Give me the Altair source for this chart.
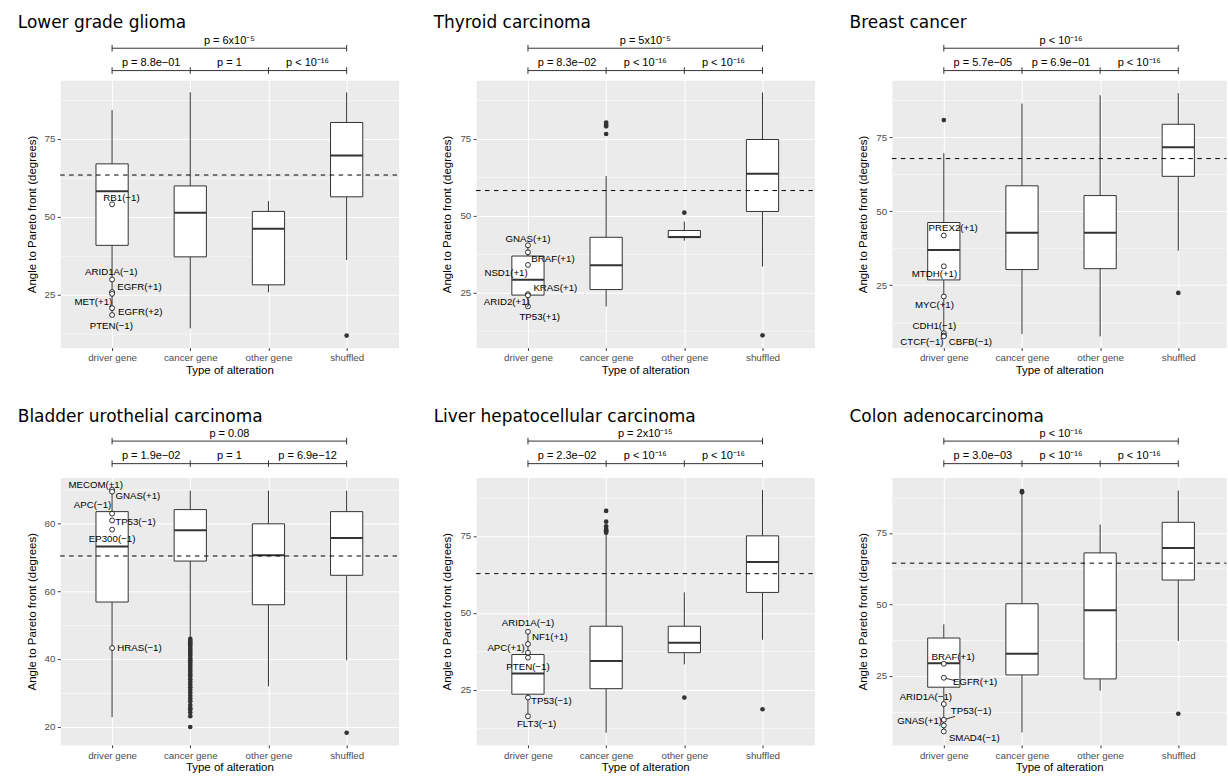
import json
import altair as alt
import pandas as pd

CATS = ["driver gene", "cancer gene", "other gene", "shuffled"]
POS = [1, 2, 3, 4]

# ---------------- Lower grade glioma ----------------
LGG_TITLE = "Lower grade glioma"
LGG_LOW = [18.4, 14.1, 25.7, 36.1]
LGG_Q1 = [40.8, 37.1, 28.1, 56.4]
LGG_MED = [58.2, 51.3, 46.1, 69.7]
LGG_Q3 = [67.0, 59.9, 51.7, 80.3]
LGG_HIGH = [84.3, 90.0, 55.0, 90.0]
LGG_OUT_X = [4]
LGG_OUT_Y = [11.8]
LGG_GENES = ["RB1(−1)", "ARID1A(−1)", "EGFR(+1)", "MET(+1)", "EGFR(+2)", "PTEN(−1)"]
LGG_GENE_Y = [54.0, 29.8, 25.8, 25.2, 20.6, 18.4]
LGG_LAB_X = [1.12, 0.99, 1.35, 0.76, 1.36, 0.99]
LGG_LAB_Y = [56.0, 32.1, 27.3, 22.5, 19.3, 14.8]
LGG_DASH = 63.4
LGG_DOMAIN = [7.9, 93.9]
LGG_P_TOP = "p = 6x10⁻⁵"
LGG_P = ["p = 8.8e−01", "p = 1", "p < 10⁻¹⁶"]

# ---------------- Thyroid carcinoma ----------------
THY_TITLE = "Thyroid carcinoma"
THY_LOW = [20.4, 20.4, 41.8, 33.4]
THY_Q1 = [24.1, 25.9, 42.8, 51.3]
THY_MED = [29.1, 33.8, 43.0, 63.6]
THY_Q3 = [36.8, 42.9, 45.1, 74.7]
THY_HIGH = [40.3, 62.8, 48.0, 90.0]
THY_OUT_X = [2, 2, 2, 2, 3, 4]
THY_OUT_Y = [80.2, 79.6, 79.0, 76.5, 50.9, 11.0]
THY_GENES = ["GNAS(+1)", "BRAF(+1)", "NSD1(+1)", "KRAS(+1)", "ARID2(+1)", "TP53(+1)"]
THY_GENE_Y = [40.3, 38.0, 33.9, 24.4, 24.0, 20.4]
THY_LAB_X = [1.0, 1.32, 0.72, 1.35, 0.73, 1.15]
THY_LAB_Y = [42.3, 36.0, 31.2, 26.5, 21.8, 17.1]
THY_DASH = 58.1
THY_DOMAIN = [7.0, 94.0]
THY_P_TOP = "p = 5x10⁻⁵"
THY_P = ["p = 8.3e−02", "p < 10⁻¹⁶", "p < 10⁻¹⁶"]

# ---------------- Breast cancer ----------------
BRC_TITLE = "Breast cancer"
BRC_LOW = [8.0, 8.5, 7.7, 36.7]
BRC_Q1 = [26.8, 30.3, 30.6, 61.8]
BRC_MED = [36.9, 42.7, 42.7, 71.6]
BRC_Q3 = [46.2, 58.6, 55.3, 79.4]
BRC_HIGH = [69.6, 86.4, 89.2, 89.9]
BRC_OUT_X = [1, 4]
BRC_OUT_Y = [80.8, 22.4]
BRC_GENES = ["PREX2(+1)", "MTDH(+1)", "MYC(+1)", "CDH1(−1)", "CTCF(−1)", "CBFB(−1)"]
BRC_GENE_Y = [41.8, 31.4, 21.2, 8.8, 8.0, 7.7]
BRC_LAB_X = [1.12, 0.88, 0.88, 0.88, 0.72, 1.34]
BRC_LAB_Y = [44.3, 28.8, 18.4, 11.3, 5.8, 5.8]
BRC_DASH = 67.8
BRC_DOMAIN = [3.9, 94.3]
BRC_P_TOP = "p < 10⁻¹⁶"
BRC_P = ["p = 5.7e−05", "p = 6.9e−01", "p < 10⁻¹⁶"]

# ---------------- Bladder urothelial carcinoma ----------------
BLC_TITLE = "Bladder urothelial carcinoma"
BLC_LOW = [22.8, 46.3, 31.9, 39.6]
BLC_Q1 = [56.8, 68.9, 56.0, 64.7]
BLC_MED = [73.2, 78.0, 70.6, 75.7]
BLC_Q3 = [83.5, 84.1, 79.9, 83.5]
BLC_HIGH = [90.0, 89.7, 89.7, 89.7]
BLC_OUT_Y = [45.9, 45.4, 44.9, 44.3, 43.8, 43.2, 42.6, 42.1, 41.5, 40.9, 40.2,
             39.6, 39.0, 38.3, 37.6, 36.9, 36.2, 35.5, 34.8, 34.0, 33.2, 32.4,
             31.6, 30.8, 30.0, 29.1, 28.3, 27.5, 26.4, 25.5, 25.1, 24.2, 23.1,
             19.9, 18.2]
BLC_OUT_X = [2] * 34 + [4]
BLC_GENES = ["MECOM(+1)", "GNAS(+1)", "APC(−1)", "TP53(−1)", "EP300(−1)", "HRAS(−1)"]
BLC_GENE_Y = [90.0, 89.4, 82.9, 80.9, 78.2, 43.2]
BLC_LAB_X = [0.79, 1.33, 0.75, 1.30, 1.0, 1.35]
BLC_LAB_Y = [91.4, 88.1, 85.6, 80.3, 75.3, 43.3]
BLC_DASH = 70.4
BLC_DOMAIN = [14.6, 93.6]
BLC_P_TOP = "p = 0.08"
BLC_P = ["p = 1.9e−02", "p = 1", "p = 6.9e−12"]

# ---------------- Liver hepatocellular carcinoma ----------------
LIV_TITLE = "Liver hepatocellular carcinoma"
LIV_LOW = [16.3, 11.0, 33.2, 41.2]
LIV_Q1 = [23.5, 25.3, 37.0, 56.6]
LIV_MED = [30.2, 34.3, 40.2, 66.5]
LIV_Q3 = [36.4, 45.6, 45.6, 75.0]
LIV_HIGH = [43.8, 75.5, 56.6, 89.9]
LIV_OUT_X = [2, 2, 2, 2, 2, 2, 2, 3, 4]
LIV_OUT_Y = [83.1, 79.6, 78.1, 77.2, 76.8, 76.4, 76.0, 22.4, 18.6]
LIV_GENES = ["ARID1A(−1)", "NF1(+1)", "APC(+1)", "PTEN(−1)", "TP53(−1)", "FLT3(−1)"]
LIV_GENE_Y = [43.8, 39.8, 37.0, 35.4, 22.4, 16.3]
LIV_LAB_X = [1.0, 1.28, 0.72, 1.0, 1.30, 1.11]
LIV_LAB_Y = [46.8, 42.2, 38.5, 32.4, 21.3, 13.7]
LIV_DASH = 62.7
LIV_DOMAIN = [7.0, 94.0]
LIV_P_TOP = "p = 2x10⁻¹⁵"
LIV_P = ["p = 2.3e−02", "p < 10⁻¹⁶", "p < 10⁻¹⁶"]

# ---------------- Colon adenocarcinoma ----------------
COL_TITLE = "Colon adenocarcinoma"
COL_LOW = [5.5, 5.2, 19.8, 37.2]
COL_Q1 = [21.0, 25.3, 23.9, 58.5]
COL_MED = [29.4, 32.7, 47.9, 69.7]
COL_Q3 = [38.2, 50.2, 68.0, 78.7]
COL_HIGH = [43.0, 88.9, 77.9, 89.8]
COL_OUT_X = [2, 2, 4]
COL_OUT_Y = [89.2, 89.6, 11.7]
COL_GENES = ["BRAF(+1)", "EGFR(+1)", "ARID1A(−1)", "TP53(−1)", "GNAS(+1)", "SMAD4(−1)"]
COL_GENE_Y = [29.2, 24.3, 15.1, 9.6, 7.6, 5.5]
COL_LAB_X = [1.12, 1.40, 0.77, 1.35, 0.69, 1.39]
COL_LAB_Y = [31.6, 22.7, 17.7, 12.6, 9.3, 3.3]
COL_SEG_X = [1.0, 1.0]
COL_SEG_Y = [24.3, 9.6]
COL_SEG_X2 = [1.144, 1.144]
COL_SEG_Y2 = [23.3, 10.8]
COL_DASH = 64.4
COL_DOMAIN = [0.8, 94.4]
COL_P_TOP = "p < 10⁻¹⁶"
COL_P = ["p = 3.0e−03", "p < 10⁻¹⁶", "p < 10⁻¹⁶"]

TICKS_A = [25, 50, 75]
MINOR_A = [12.5, 37.5, 62.5, 87.5]
TICKS_B = [20, 40, 60, 80]
MINOR_B = [30, 50, 70, 90]

DARK = "#333333"
SANS = "Liberation Sans"
PLOT_H = 268
# pixel offsets above each row's plot area: (title, top bracket, lower bracket)
ROW1_OFF = (-52.7, -32.0, -9.6)
ROW2_OFF = (-55.7, -36.4, -13.8)


def panel(title, low, q1, med, q3, high, out_x, out_y, genes, gene_y, lab_x, lab_y,
          dash, domain, yticks, yminor, p_top, p_low, width, xmax, off, seg=None):
    xs = alt.Scale(domain=[0.4, xmax], nice=False, zero=False)
    ys = alt.Scale(domain=domain, nice=False, zero=False)
    step = width / (xmax - 0.4)
    major_test = "indexof(" + json.dumps(yticks) + ", datum.value) >= 0"
    xaxis = alt.Axis(values=POS, labelExpr=json.dumps(CATS) + "[datum.value - 1]",
                     title="Type of alteration", grid=True, titlePadding=2)
    yaxis = alt.Axis(
        values=sorted(yticks + yminor),
        labelExpr=major_test + " ? datum.label : ''",
        title="Angle to Pareto front (degrees)", grid=True, titlePadding=7,
        gridWidth={"condition": {"test": major_test, "value": 1.07}, "value": 0.55},
        tickOpacity={"condition": {"test": major_test, "value": 1}, "value": 0},
    )

    def X(field):
        return alt.X(field, scale=xs, axis=xaxis)

    def Y(field):
        return alt.Y(field, scale=ys, axis=yaxis)

    box = pd.DataFrame({"pos": POS, "low": low, "q1": q1, "med": med, "q3": q3, "high": high})
    outl = pd.DataFrame({"pos": out_x, "v": out_y})
    gene = pd.DataFrame({"pos": [1] * len(genes), "v": gene_y})
    labs = pd.DataFrame({"pos": lab_x, "v": lab_y, "name": genes})
    dashdf = pd.DataFrame({"v": [dash]})
    brk = pd.DataFrame({"x1": [1, 1, 2, 3], "x2": [4, 2, 3, 4],
                        "label": [p_top] + list(p_low)})
    top_b = brk.iloc[:1]
    low_b = brk.iloc[1:]
    top_tips = pd.DataFrame({"x": [top_b.x1.iloc[0], top_b.x2.iloc[0]]})
    low_tips = pd.DataFrame({"x": sorted(set(low_b.x1) | set(low_b.x2))})

    layers = []
    layers.append(alt.Chart(box).mark_rule(color=DARK, strokeWidth=1).encode(
        x=X("pos:Q"), y=Y("low:Q"), y2="high:Q"))
    layers.append(alt.Chart(box).mark_bar(size=0.4 * step, fill="white", stroke=DARK,
                                          strokeWidth=1).encode(
        x=X("pos:Q"), y=Y("q1:Q"), y2="q3:Q"))
    layers.append(alt.Chart(box).mark_tick(orient="horizontal", size=0.4 * step,
                                           thickness=2, color=DARK, opacity=1).encode(
        x=X("pos:Q"), y=Y("med:Q")))
    layers.append(alt.Chart(outl).mark_circle(size=22, color=DARK, opacity=1).encode(
        x=X("pos:Q"), y=Y("v:Q")))
    layers.append(alt.Chart(dashdf).mark_rule(color="black", strokeWidth=1,
                                              strokeDash=[4.5, 4.5]).encode(
        y=Y("v:Q"), x=alt.value(0), x2=alt.value(width)))
    if seg is not None:
        segdf = pd.DataFrame({"pos": seg[0], "v": seg[1], "x2": seg[2], "y2": seg[3]})
        layers.append(alt.Chart(segdf).mark_rule(color="black", strokeWidth=0.8).encode(
            x=X("pos:Q"), x2="x2:Q", y=Y("v:Q"), y2="y2:Q"))
    layers.append(alt.Chart(gene).mark_point(shape="circle", size=24, fill="white",
                                             stroke="black", strokeWidth=0.8,
                                             fillOpacity=1, opacity=1).encode(
        x=X("pos:Q"), y=Y("v:Q")))
    layers.append(alt.Chart(labs).mark_text(font=SANS, fontSize=9.7, color="black",
                                            baseline="middle").encode(
        x=X("pos:Q"), y=Y("v:Q"), text="name:N"))

    # significance brackets above the panel
    t_off, top_off, low_off = off
    for df, tips, yline in ((top_b, top_tips, top_off), (low_b, low_tips, low_off)):
        layers.append(alt.Chart(df).mark_rule(color=DARK, strokeWidth=1).encode(
            x=X("x1:Q"), x2="x2:Q", y=alt.value(yline)))
        layers.append(alt.Chart(tips).mark_rule(color=DARK, strokeWidth=1).encode(
            x=X("x:Q"), y=alt.value(yline - 3.3), y2=alt.value(yline + 3.3)))
        layers.append(alt.Chart(df).transform_calculate(
            mid="(datum.x1 + datum.x2) / 2").mark_text(
            font=SANS, fontSize=11, color="black", baseline="alphabetic").encode(
            x=X("mid:Q"), y=alt.value(yline - 4.3), text="label:N"))

    layers.append(alt.Chart(pd.DataFrame({"t": [title]})).mark_text(
        font="DejaVu Sans", fontSize=17, color="black", align="left",
        baseline="alphabetic").encode(
        x=alt.value(-42.5), y=alt.value(t_off), text="t:N"))

    return alt.layer(*layers).properties(width=width, height=PLOT_H)


W = 339
W3 = 335
X3 = 0.4 + W3 / (W / 4.2)

p1 = panel(LGG_TITLE, LGG_LOW, LGG_Q1, LGG_MED, LGG_Q3, LGG_HIGH, LGG_OUT_X, LGG_OUT_Y,
           LGG_GENES, LGG_GENE_Y, LGG_LAB_X, LGG_LAB_Y, LGG_DASH, LGG_DOMAIN,
           TICKS_A, MINOR_A, LGG_P_TOP, LGG_P, W, 4.6, ROW1_OFF)
p2 = panel(THY_TITLE, THY_LOW, THY_Q1, THY_MED, THY_Q3, THY_HIGH, THY_OUT_X, THY_OUT_Y,
           THY_GENES, THY_GENE_Y, THY_LAB_X, THY_LAB_Y, THY_DASH, THY_DOMAIN,
           TICKS_A, MINOR_A, THY_P_TOP, THY_P, W, 4.6, ROW1_OFF)
p3 = panel(BRC_TITLE, BRC_LOW, BRC_Q1, BRC_MED, BRC_Q3, BRC_HIGH, BRC_OUT_X, BRC_OUT_Y,
           BRC_GENES, BRC_GENE_Y, BRC_LAB_X, BRC_LAB_Y, BRC_DASH, BRC_DOMAIN,
           TICKS_A, MINOR_A, BRC_P_TOP, BRC_P, W3, X3, ROW1_OFF)
p4 = panel(BLC_TITLE, BLC_LOW, BLC_Q1, BLC_MED, BLC_Q3, BLC_HIGH, BLC_OUT_X, BLC_OUT_Y,
           BLC_GENES, BLC_GENE_Y, BLC_LAB_X, BLC_LAB_Y, BLC_DASH, BLC_DOMAIN,
           TICKS_B, MINOR_B, BLC_P_TOP, BLC_P, W, 4.6, ROW2_OFF)
p5 = panel(LIV_TITLE, LIV_LOW, LIV_Q1, LIV_MED, LIV_Q3, LIV_HIGH, LIV_OUT_X, LIV_OUT_Y,
           LIV_GENES, LIV_GENE_Y, LIV_LAB_X, LIV_LAB_Y, LIV_DASH, LIV_DOMAIN,
           TICKS_A, MINOR_A, LIV_P_TOP, LIV_P, W, 4.6, ROW2_OFF)
p6 = panel(COL_TITLE, COL_LOW, COL_Q1, COL_MED, COL_Q3, COL_HIGH, COL_OUT_X, COL_OUT_Y,
           COL_GENES, COL_GENE_Y, COL_LAB_X, COL_LAB_Y, COL_DASH, COL_DOMAIN,
           TICKS_A, MINOR_A, COL_P_TOP, COL_P, W3, X3, ROW2_OFF,
           seg=(COL_SEG_X, COL_SEG_Y, COL_SEG_X2, COL_SEG_Y2))

chart = alt.concat(p1, p2, p3, p4, p5, p6, columns=3,
                   spacing={"row": 130, "column": 77.65}, bounds="flush").properties(
    padding={"left": 17.3, "top": 11.6, "right": 0, "bottom": 0},
    background="white",
).configure_view(
    fill="#EBEBEB", stroke="transparent"
).configure_axis(
    domain=False, gridColor="white",
    tickColor=DARK, tickSize=2.75, tickWidth=1,
    labelColor="#4D4D4D", labelFont=SANS, labelFontSize=9.8, labelPadding=2.5,
    titleFont=SANS, titleFontSize=11.5, titleColor="black", titleFontWeight="normal",
)

chart.save("out.html", embed_options={"renderer": "svg", "actions": False})
